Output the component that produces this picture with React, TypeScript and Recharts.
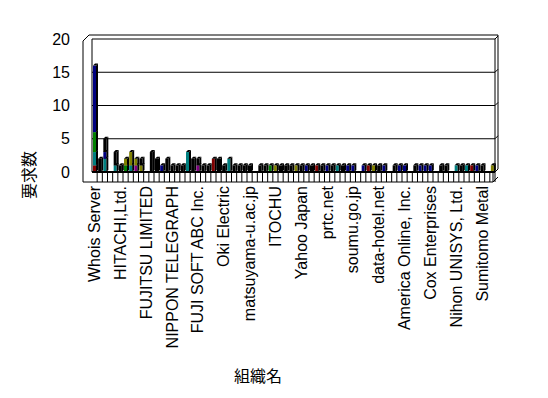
import { BarChart, Bar, XAxis, YAxis, CartesianGrid, Customized } from "recharts"

// organisation names shown on the axis (every 5th category)
const labels = [
  "Whois Server", "HITACHI,Ltd.", "FUJITSU LIMITED", "NIPPON TELEGRAPH",
  "FUJI SOFT ABC Inc.", "Oki Electric", "matsuyama-u.ac.jp", "ITOCHU",
  "Yahoo Japan", "prtc.net", "soumu.go.jp", "data-hotel.net",
  "America Online, Inc.", "Cox Enterprises", "Nihon UNISYS, Ltd.", "Sumitomo Metal",
]

// request counts per organisation, one array per stacked series (78 organisations)
const red = [
  1, 0, 0, 0, 0, 0, 0, 0, 0, 0, 0, 0, 0, 0, 0, 0, 0, 0, 0, 0, 0, 0, 0, 2, 0, 0,
  0, 0, 0, 0, 0, 0, 0, 0, 0, 0, 0, 0, 0, 0, 0, 0, 0, 1, 0, 0, 0, 0, 0, 0, 0, 0,
  0, 1, 0, 0, 0, 0, 0, 0, 0, 0, 0, 0, 0, 0, 0, 0, 0, 0, 0, 0, 0, 1, 0, 0, 0, 0,
]
const teal = [
  2, 0, 2, 0, 1, 0, 0, 1, 0, 0, 0, 0, 0, 0, 0, 0, 0, 0, 3, 0, 0, 0, 0, 0, 0, 0,
  2, 0, 0, 0, 0, 0, 0, 0, 0, 0, 0, 0, 0, 0, 0, 0, 0, 0, 0, 0, 0, 1, 0, 0, 0, 0,
  0, 0, 0, 0, 0, 0, 0, 0, 0, 0, 0, 0, 0, 0, 0, 0, 0, 0, 1, 0, 1, 0, 0, 0, 0, 0,
]
const purple = [
  0, 0, 0, 0, 0, 0, 0, 0, 1, 0, 0, 0, 0, 0, 0, 0, 0, 0, 0, 0, 1, 0, 0, 0, 0, 0,
  0, 0, 0, 0, 0, 0, 0, 0, 0, 0, 0, 0, 0, 0, 0, 0, 0, 0, 0, 0, 0, 0, 0, 0, 0, 0,
  0, 0, 0, 0, 0, 0, 0, 0, 0, 0, 0, 0, 0, 0, 0, 0, 0, 0, 0, 0, 0, 0, 0, 0, 0, 0,
]
const green = [
  3, 0, 0, 0, 0, 0, 1, 0, 0, 0, 0, 0, 0, 0, 0, 0, 0, 0, 0, 0, 0, 0, 0, 0, 0, 0,
  0, 0, 0, 0, 0, 0, 0, 0, 1, 0, 0, 0, 0, 0, 0, 0, 0, 0, 0, 0, 0, 0, 0, 0, 0, 0,
  0, 0, 0, 0, 0, 0, 0, 0, 0, 0, 0, 0, 0, 0, 0, 0, 0, 0, 0, 0, 0, 0, 0, 0, 0, 0,
]
const navy = [
  10, 0, 1, 0, 0, 0, 0, 0, 0, 0, 0, 0, 0, 1, 0, 0, 0, 0, 0, 0, 0, 0, 0, 0, 0, 0,
  0, 0, 0, 0, 0, 0, 0, 0, 0, 0, 0, 0, 0, 0, 0, 1, 0, 0, 0, 1, 0, 0, 0, 1, 1, 0,
  1, 0, 0, 0, 1, 0, 0, 1, 1, 0, 0, 1, 1, 1, 0, 0, 0, 0, 0, 0, 0, 0, 1, 0, 0, 0,
]
const olive = [
  0, 0, 0, 0, 0, 0, 1, 2, 1, 1, 0, 0, 0, 0, 0, 0, 0, 0, 0, 0, 0, 0, 0, 0, 0, 0,
  0, 0, 0, 0, 0, 0, 0, 0, 0, 1, 0, 0, 0, 1, 0, 0, 0, 0, 0, 0, 0, 0, 0, 0, 0, 0,
  0, 0, 1, 0, 0, 0, 0, 0, 0, 0, 0, 0, 0, 0, 0, 0, 0, 0, 0, 0, 0, 0, 0, 0, 0, 1,
]
const black = [
  0, 2, 2, 0, 2, 1, 0, 0, 0, 1, 0, 3, 2, 0, 2, 1, 1, 1, 0, 2, 1, 1, 1, 0, 2, 1,
  0, 1, 1, 1, 1, 0, 1, 1, 0, 0, 1, 1, 1, 0, 1, 0, 1, 0, 1, 0, 1, 0, 1, 0, 0, 0,
  0, 0, 0, 1, 0, 0, 1, 0, 0, 0, 1, 0, 0, 0, 0, 1, 1, 0, 0, 1, 0, 0, 0, 1, 0, 0,
]

const yTicks = [0, 5, 10, 15, 20]

const series = [
  { key: "red", color: "#800000" },
  { key: "teal", color: "#008080" },
  { key: "purple", color: "#800080" },
  { key: "green", color: "#008000" },
  { key: "navy", color: "#000080" },
  { key: "olive", color: "#808000" },
  { key: "black", color: "#000000" },
]

const data = red.map((_, i) => ({
  idx: i,
  red: red[i],
  teal: teal[i],
  purple: purple[i],
  green: green[i],
  navy: navy[i],
  olive: olive[i],
  black: black[i],
}))

const W = 548
const H = 398
const LEFT = 92
const RIGHT = 495
const TOP = 39
const BOTTOM = 172
const BAND = (RIGHT - LEFT) / data.length
const FONT = "'Liberation Sans', Arial, 'Noto Sans CJK JP', sans-serif"

// front face + dark side/top, like the old 3D column look
const Bar3D = (props: any) => {
  const { x, y, width, height, fill } = props
  if (!height || height < 0.5) return null
  const d = 2
  return (
    <g>
      <rect x={x} y={y} width={width} height={height} fill={fill} />
      <polygon
        points={`${x + width},${y + height} ${x + width},${y} ${x + width + d},${y - d} ${x + width + d},${y + height - d}`}
        fill="#000"
      />
      <polygon points={`${x},${y} ${x + d},${y - d} ${x + width + d},${y - d} ${x + width},${y}`} fill="#000" />
    </g>
  )
}

const OrgTick = (props: any) => {
  const { x, y, payload } = props
  const i = payload.value
  const edge = x + BAND / 2
  return (
    <g>
      <line x1={edge} y1={BOTTOM} x2={edge} y2={BOTTOM + 10} stroke="#000" />
      {i % 5 === 0 && (
        <text
          x={x}
          y={y + 14}
          transform={`rotate(-90, ${x}, ${y + 14})`}
          textAnchor="end"
          dominantBaseline="central"
          fontSize={16}
          fontFamily={FONT}
          fill="#000"
        >
          {labels[i / 5]}
        </text>
      )}
    </g>
  )
}

const Walls = () => {
  const grid = yTicks.map((v) => BOTTOM - (v / 20) * (BOTTOM - TOP))
  return (
    <g stroke="#000" fill="none">
      <line x1={83} y1={41} x2={83} y2={182} />
      <line x1={83} y1={41} x2={89} y2={35} />
      <line x1={89} y1={35} x2={498} y2={35} />
      <line x1={LEFT} y1={TOP} x2={LEFT} y2={BOTTOM} />
      <line x1={RIGHT} y1={TOP} x2={RIGHT} y2={BOTTOM} />
      <line x1={498} y1={35} x2={498} y2={169} />
      {grid.map((gy) => (
        <line key={gy} x1={RIGHT} y1={gy} x2={498} y2={gy - 3} />
      ))}
      <line x1={83} y1={182} x2={RIGHT - 2} y2={182} />
      <line x1={RIGHT - 2} y1={BOTTOM} x2={RIGHT - 2} y2={182} />
      <line x1={RIGHT - 2} y1={182} x2={498} y2={177} />
      <text x={258} y={382} textAnchor="middle" fontSize={16} fontFamily={FONT} fill="#000" stroke="none">
        組織名
      </text>
      <text
        x={29}
        y={175}
        transform="rotate(-90, 29, 175)"
        textAnchor="middle"
        dominantBaseline="central"
        fontSize={16}
        fontFamily={FONT}
        fill="#000"
        stroke="none"
      >
        要求数
      </text>
    </g>
  )
}

export default function App() {
  return (
    <div style={{ position: "absolute", left: 0, top: 0, width: W, height: H, background: "#fff" }}>
      <BarChart
        width={W}
        height={H}
        data={data}
        margin={{ top: TOP, right: W - RIGHT, bottom: 0, left: 0 }}
        barSize={3}
      >
        <CartesianGrid vertical={false} stroke="#000" strokeDasharray="" />
        <XAxis
          dataKey="idx"
          type="category"
          interval={0}
          height={H - BOTTOM}
          tickLine={false}
          tickSize={0}
          tickMargin={0}
          axisLine={{ stroke: "#000", strokeWidth: 2 }}
          tick={<OrgTick />}
        />
        <YAxis
          width={LEFT}
          domain={[0, 20]}
          ticks={yTicks}
          axisLine={false}
          tickLine={false}
          tickSize={0}
          tickMargin={22}
          tick={{ fill: "#000", fontSize: 16, fontFamily: FONT }}
        />
        <Customized component={<Walls />} />
        {series.map((s) => (
          <Bar key={s.key} dataKey={s.key} stackId="a" fill={s.color} shape={<Bar3D />} isAnimationActive={false} />
        ))}
      </BarChart>
    </div>
  )
}
